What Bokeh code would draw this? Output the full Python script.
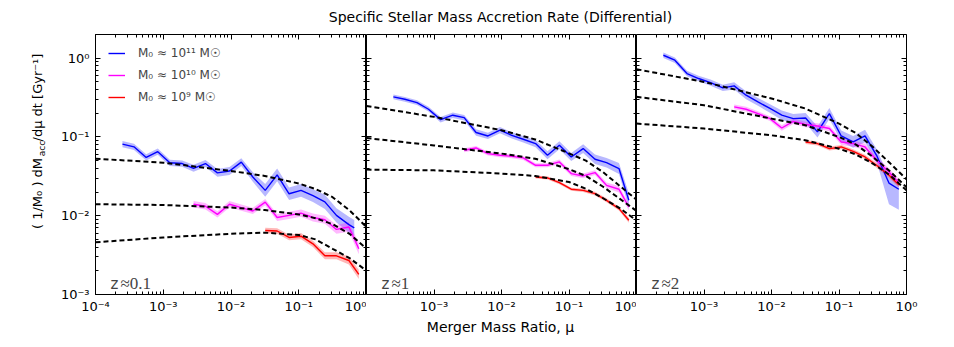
import math
from bokeh.plotting import figure
from bokeh.models import (Range1d, LogAxis, FixedTicker, CustomJSTickFormatter,
                          Label, Legend, LegendItem)
from bokeh.layouts import row, column
from bokeh.embed import file_html
from bokeh.resources import INLINE
from bokeh.core.properties import value

# ---------------- data ----------------
PANEL_Z = ["≈0.1", "≈1", "≈2"]
MASS_LABELS = ["M₀ ≈ 10¹¹ M☉", "M₀ ≈ 10¹⁰ M☉", "M₀ ≈ 10⁹ M☉"]
SERIES_COLORS = ["#0000ff", "#ff00ff", "#ff0000"]

X_TICKS = [1e-4, 1e-3, 1e-2, 1e-1, 1.0]
Y_TICKS = [1e-3, 1e-2, 1e-1, 1.0]

# merger-ratio bin centres
MU_BLUE_Z01 = [2.5e-4, 3.7e-4, 5.6e-4, 8.3e-4, 1.25e-3, 1.9e-3, 2.8e-3, 4.2e-3, 6.3e-3, 9.5e-3,
               1.42e-2, 2.1e-2, 3.2e-2, 4.8e-2, 7.2e-2, 0.108, 0.162, 0.243, 0.36, 0.55, 0.66]
MU_BLUE = [2.5e-4, 3.7e-4, 5.6e-4, 8.3e-4, 1.25e-3, 1.9e-3, 2.8e-3, 4.2e-3, 6.3e-3, 9.5e-3,
           1.42e-2, 2.1e-2, 3.2e-2, 4.8e-2, 7.2e-2, 0.108, 0.162, 0.243, 0.36, 0.55, 0.77]
MU_MAG = [2.8e-3, 4.2e-3, 6.3e-3, 9.5e-3, 1.42e-2, 2.1e-2, 3.2e-2, 4.8e-2, 7.2e-2, 0.108,
          0.162, 0.243, 0.36, 0.55, 0.77]
MU_RED = [3.2e-2, 4.8e-2, 7.2e-2, 0.108, 0.162, 0.243, 0.36, 0.55, 0.77]
MU_FIT = [1e-4, 1e-3, 1e-2, 0.0316, 0.1, 0.178, 0.316, 0.562, 1.0]

# z ~ 0.1
blue_z01 = [0.081, 0.075, 0.055, 0.065, 0.047, 0.046, 0.040, 0.046, 0.035, 0.037, 0.048,
            0.031, 0.021, 0.033, 0.019, 0.021, 0.018, 0.015, 0.0101, 0.0077, 0.0070]
blue_z01_err = [0.04, 0.04, 0.04, 0.04, 0.04, 0.04, 0.045, 0.045, 0.05, 0.05, 0.05,
                0.06, 0.08, 0.08, 0.08, 0.08, 0.08, 0.09, 0.09, 0.1, 0.1]
mag_z01 = [0.0140, 0.0132, 0.0104, 0.0140, 0.0127, 0.0115, 0.0149, 0.0095, 0.0101, 0.0108,
           0.0095, 0.0089, 0.0067, 0.0072, 0.0038]
mag_z01_err = [0.04, 0.04, 0.04, 0.04, 0.04, 0.04, 0.04, 0.045, 0.045, 0.045, 0.05, 0.05,
               0.055, 0.06, 0.07]
red_z01 = [0.0065, 0.0064, 0.0053, 0.0055, 0.0044, 0.0031, 0.0031, 0.0027, 0.0018]
red_z01_err = [0.035, 0.035, 0.035, 0.04, 0.04, 0.045, 0.045, 0.05, 0.06]
fit_hi_z01 = [0.053, 0.0472, 0.037, 0.032, 0.0257, 0.0218, 0.0172, 0.0117, 0.0072]
fit_mid_z01 = [0.0140, 0.0137, 0.0127, 0.0118, 0.0104, 0.0093, 0.0078, 0.0059, 0.0038]
fit_lo_z01 = [0.0046, 0.0053, 0.0059, 0.0061, 0.0057, 0.0050, 0.0038, 0.0029, 0.0020]

# z ~ 1
blue_z1 = [0.323, 0.301, 0.273, 0.225, 0.166, 0.189, 0.176, 0.114, 0.103, 0.122, 0.105,
           0.0935, 0.0824, 0.0585, 0.0784, 0.0557, 0.0712, 0.0521, 0.0472, 0.0397, 0.0157]
blue_z1_err = [0.03, 0.03, 0.03, 0.03, 0.035, 0.035, 0.035, 0.04, 0.04, 0.04, 0.04, 0.04,
               0.045, 0.05, 0.05, 0.05, 0.055, 0.06, 0.06, 0.07, 0.09]
mag_z1 = [0.0678, 0.0725, 0.0615, 0.0585, 0.0569, 0.0542, 0.0437, 0.0437, 0.0482, 0.0343,
          0.0320, 0.0353, 0.0243, 0.0217, 0.0129]
mag_z1_err = [0.025, 0.025, 0.025, 0.025, 0.025, 0.025, 0.025, 0.025, 0.03, 0.03, 0.03,
              0.03, 0.035, 0.04, 0.045]
red_z1 = [0.0310, 0.0302, 0.0263, 0.0217, 0.0210, 0.0191, 0.0157, 0.0123, 0.00875]
red_z1_err = [0.02, 0.02, 0.02, 0.02, 0.02, 0.025, 0.025, 0.025, 0.03]
fit_hi_z1 = [0.248, 0.180, 0.122, 0.093, 0.062, 0.050, 0.036, 0.024, 0.016]
fit_mid_z1 = [0.097, 0.078, 0.0615, 0.053, 0.039, 0.032, 0.0235, 0.0165, 0.0115]
fit_lo_z1 = [0.0385, 0.0377, 0.0343, 0.032, 0.0268, 0.022, 0.0168, 0.0125, 0.0087]

# z ~ 2
blue_z2 = [1.09, 0.943, 0.639, 0.552, 0.491, 0.420, 0.445, 0.339, 0.279, 0.230, 0.189,
           0.171, 0.174, 0.116, 0.198, 0.103, 0.0865, 0.103, 0.0585, 0.026, 0.0217]
blue_z2_err = [0.035, 0.035, 0.035, 0.035, 0.04, 0.04, 0.045, 0.05, 0.05, 0.055, 0.06,
               0.06, 0.065, 0.07, 0.07, 0.07, 0.075, 0.08, 0.08, 0.08, 0.07]
blue_z2_err_dn = [0.035, 0.035, 0.035, 0.035, 0.04, 0.04, 0.045, 0.05, 0.05, 0.055, 0.06,
                  0.06, 0.065, 0.07, 0.07, 0.07, 0.075, 0.08, 0.08, 0.27, 0.26]
mag_z2 = [0.241, 0.225, 0.198, 0.171, 0.130, 0.158, 0.144, 0.138, 0.128, 0.0865, 0.0824,
          0.0747, 0.0506, 0.0360, 0.0263]
mag_z2_err = [0.03, 0.03, 0.03, 0.03, 0.035, 0.035, 0.035, 0.035, 0.035, 0.04, 0.04, 0.04,
              0.04, 0.045, 0.045]
red_z2 = [0.0865, 0.0824, 0.0712, 0.0747, 0.0658, 0.0557, 0.0437, 0.0326, 0.0248]
red_z2_err = [0.025, 0.025, 0.025, 0.025, 0.025, 0.03, 0.03, 0.03, 0.035]
fit_hi_z2 = [0.725, 0.50, 0.308, 0.230, 0.148, 0.112, 0.075, 0.047, 0.029]
fit_mid_z2 = [0.323, 0.253, 0.171, 0.141, 0.100, 0.080, 0.056, 0.037, 0.023]
fit_lo_z2 = [0.148, 0.128, 0.105, 0.091, 0.071, 0.060, 0.046, 0.033, 0.021]

PANELS = [
    dict(series=[(MU_BLUE_Z01, blue_z01, blue_z01_err, blue_z01_err),
                 (MU_MAG, mag_z01, mag_z01_err, mag_z01_err),
                 (MU_RED, red_z01, red_z01_err, red_z01_err)],
         fits=[fit_hi_z01, fit_mid_z01, fit_lo_z01]),
    dict(series=[(MU_BLUE, blue_z1, blue_z1_err, blue_z1_err),
                 (MU_MAG, mag_z1, mag_z1_err, mag_z1_err),
                 (MU_RED, red_z1, red_z1_err, red_z1_err)],
         fits=[fit_hi_z1, fit_mid_z1, fit_lo_z1]),
    dict(series=[(MU_BLUE, blue_z2, blue_z2_err, blue_z2_err_dn),
                 (MU_MAG, mag_z2, mag_z2_err, mag_z2_err),
                 (MU_RED, red_z2, red_z2_err, red_z2_err)],
         fits=[fit_hi_z2, fit_mid_z2, fit_lo_z2]),
]

# ---------------- styling helpers ----------------
FONT = "DejaVu Sans"
X_MINOR = [k * 10.0 ** e for e in range(-4, 0) for k in range(2, 10)]
Y_MINOR = [k * 10.0 ** e for e in range(-3, 0) for k in range(2, 10)] + [2.0]

SUP_CODE = """
const sup = {"-": "\\u207b", "0": "\\u2070", "1": "\\u00b9", "2": "\\u00b2", "3": "\\u00b3",
             "4": "\\u2074", "5": "\\u2075", "6": "\\u2076", "7": "\\u2077", "8": "\\u2078",
             "9": "\\u2079"};
const e = Math.round(Math.log10(tick));
if (hide.includes(e)) { return ""; }
return "10" + String(e).split("").map(c => sup[c]).join("");
"""


def sup_formatter(hide):
    return CustomJSTickFormatter(args=dict(hide=hide), code=SUP_CODE)


def blank_formatter():
    return CustomJSTickFormatter(code="return '';")


def style_axis(ax, ticks, minor, labelled, standoff=5):
    ax.ticker = FixedTicker(ticks=ticks, minor_ticks=minor)
    ax.axis_line_color = "black"
    ax.axis_line_width = 1
    ax.major_tick_line_color = "black"
    ax.minor_tick_line_color = "black"
    ax.major_tick_in = 5
    ax.major_tick_out = 0
    ax.minor_tick_in = 3
    ax.minor_tick_out = 0
    ax.major_label_text_font = FONT
    ax.major_label_text_font_size = "13px"
    ax.major_label_text_color = "black"
    ax.major_label_standoff = standoff
    if not labelled:
        ax.formatter = blank_formatter()


TITLE_H = 34
ROW_H = 282
BOTTOM = 22
XL_H = 30
YL_W = 52
LEFT = 43
RIGHT = 40
WIDTHS = [LEFT + 271, 270, 270 + RIGHT]
TOTAL_W = YL_W + sum(WIDTHS)

panels = []
line_renderers = []
for i, spec in enumerate(PANELS):
    p = figure(width=WIDTHS[i], height=ROW_H,
               x_axis_type="log", y_axis_type="log",
               x_range=Range1d(1e-4, 1.0), y_range=Range1d(1e-3, 2.0),
               min_border_left=LEFT if i == 0 else 0,
               min_border_right=RIGHT if i == 2 else 0,
               min_border_top=0, min_border_bottom=BOTTOM,
               y_axis_location="left" if i == 0 else None,
               x_axis_location="below",
               toolbar_location=None, output_backend="svg")
    p.title = None
    p.xgrid.visible = False
    p.ygrid.visible = False
    p.outline_line_color = "black"
    p.outline_line_width = 1
    p.background_fill_color = "white"
    p.border_fill_color = "white"

    style_axis(p.xaxis[0], X_TICKS, X_MINOR, True, standoff=4)
    p.xaxis[0].formatter = sup_formatter([] if i == 0 else [-4])
    if i == 0:
        style_axis(p.yaxis[0], Y_TICKS, Y_MINOR, True, standoff=6)
        p.yaxis[0].formatter = sup_formatter([])
    else:
        la = LogAxis(fixed_location=1e-4)
        style_axis(la, Y_TICKS, Y_MINOR, False)
        p.add_layout(la, "left")
    ra = LogAxis(fixed_location=1.0)
    style_axis(ra, Y_TICKS, Y_MINOR, False)
    p.add_layout(ra, "right")
    ta = LogAxis(fixed_location=2.0)
    style_axis(ta, X_TICKS, X_MINOR, False)
    p.add_layout(ta, "above")

    for (mu, v, eu, ed), col in zip(spec["series"], SERIES_COLORS):
        hi = [a * 10 ** b for a, b in zip(v, eu)]
        lo = [a * 10 ** (-b) for a, b in zip(v, ed)]
        p.varea(x=mu, y1=lo, y2=hi, fill_color=col, fill_alpha=0.28)
    rs = []
    for (mu, v, eu, ed), col in zip(spec["series"], SERIES_COLORS):
        rs.append(p.line(mu, v, line_color=col, line_width=1.4))
    if i == 0:
        line_renderers = rs
    for f in spec["fits"]:
        p.line(MU_FIT, f, line_color="black", line_width=2, line_dash="5 3")

    p.add_layout(Label(x=15, y=11, x_units="screen", y_units="screen", text="z",
                       text_font=FONT, text_font_size="15px", text_baseline="alphabetic"))
    p.add_layout(Label(x=25, y=11, x_units="screen", y_units="screen", text=PANEL_Z[i],
                       text_font="Liberation Serif", text_font_size="17px",
                       text_baseline="alphabetic"))
    panels.append(p)

legend = Legend(items=[LegendItem(label=value(lbl), renderers=[r])
                       for lbl, r in zip(MASS_LABELS, line_renderers)],
                location=(13, 189), padding=4, margin=0, spacing=6,
                glyph_width=17, glyph_height=16, label_height=16, label_standoff=13,
                label_text_font=FONT, label_text_font_size="12px",
                border_line_color=None, background_fill_alpha=0)
panels[0].add_layout(legend)


def text_fig(w, h):
    f = figure(width=w, height=h, x_range=Range1d(0, w), y_range=Range1d(0, h),
               min_border=0, toolbar_location=None, output_backend="svg",
               x_axis_location=None, y_axis_location=None)
    f.title = None
    f.xgrid.visible = False
    f.ygrid.visible = False
    f.outline_line_color = None
    f.background_fill_color = "white"
    f.border_fill_color = "white"
    return f


title_fig = text_fig(TOTAL_W, TITLE_H)
title_fig.text(x=[500], y=[TITLE_H - 16], text=["Specific Stellar Mass Accretion Rate (Differential)"],
               text_font=value(FONT), text_font_size="14px",
               text_align="center", text_baseline="middle", text_color="black")

xl_fig = text_fig(TOTAL_W, XL_H)
xl_fig.text(x=[500], y=[XL_H - 10], text=["Merger Mass Ratio, μ"],
            text_font=value(FONT), text_font_size="14px",
            text_align="center", text_baseline="middle", text_color="black")

yl_fig = text_fig(YL_W, ROW_H)
yl_fig.text(x=[37], y=[71], text=["( 1/M₀ ) dM"], angle=math.pi / 2,
            text_font=value(FONT), text_font_size="13px",
            text_align="left", text_baseline="middle", text_color="black")
yl_fig.text(x=[41], y=[150], text=["acc"], angle=math.pi / 2,
            text_font=value(FONT), text_font_size="9px",
            text_align="left", text_baseline="middle", text_color="black")
yl_fig.text(x=[37], y=[166], text=["/dμ dt [Gyr⁻¹]"], angle=math.pi / 2,
            text_font=value(FONT), text_font_size="13px",
            text_align="left", text_baseline="middle", text_color="black")

layout = column(title_fig, row(yl_fig, *panels), xl_fig)
open("out.html", "w").write(file_html(layout, INLINE))
